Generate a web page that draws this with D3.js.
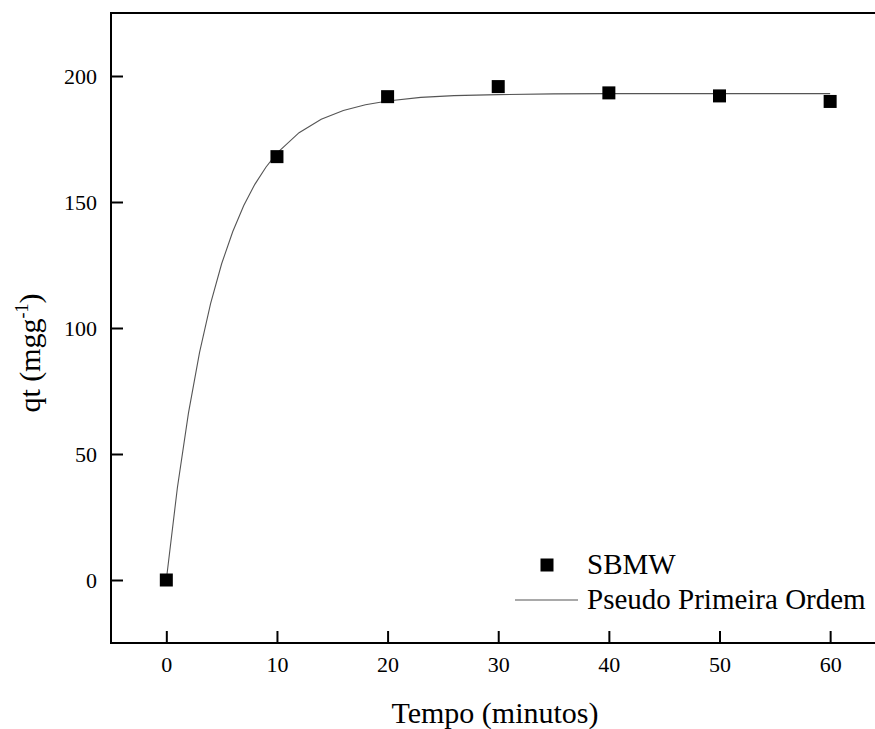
<!DOCTYPE html>
<html>
<head>
<meta charset="utf-8">
<script src="https://cdn.jsdelivr.net/npm/d3@7"></script>
<style>
  html, body { margin: 0; padding: 0; background: #fff; }
  svg { display: block; }
</style>
</head>
<body>
<svg id="chart" width="875" height="729"></svg>
<script>
// Experimental adsorption capacity over time
const tempo = [0, 10, 20, 30, 40, 50, 60];
const qt = [0, 168, 191.8, 195.8, 193.3, 192.1, 189.9];

// Pseudo-first-order fitted curve
const fitTempo = [0, 1, 2, 3, 4, 5, 6, 7, 8, 9, 10, 12, 14, 16, 18, 20, 23, 26, 30, 35, 40, 50, 60];
const fitQt = [0, 36.6, 66.2, 90.2, 109.7, 125.5, 138.2, 148.6, 157.0, 163.8, 169.4, 177.5, 182.8, 186.3, 188.6, 190.1, 191.5, 192.2, 192.6, 192.9, 193.0, 193.0, 193.0];

const xTicks = [0, 10, 20, 30, 40, 50, 60];
const yTicks = [0, 50, 100, 150, 200];

const seriesLabel = "SBMW";
const fitLabel = "Pseudo Primeira Ordem";

const FONT = "'Liberation Serif', 'Times New Roman', Times, 'DejaVu Serif', serif";

const svg = d3.select("#chart")
  .attr("font-family", FONT)
  .style("font-family", FONT);

const plotLeft = 111, plotTop = 13, plotBottom = 643, plotRight = 876;

const x = d3.scaleLinear().domain([-5, 64.1]).range([plotLeft, 875.5]);
const y = d3.scaleLinear().domain([-25, 225]).range([plotBottom, plotTop]);

// Axes with inward ticks
const xAxis = d3.axisBottom(x).tickValues(xTicks).tickSizeInner(-12).tickSizeOuter(0).tickPadding(13);
const yAxis = d3.axisLeft(y).tickValues(yTicks).tickSizeInner(-12).tickSizeOuter(0).tickPadding(14);

const gx = svg.append("g").attr("transform", `translate(0,${plotBottom})`).call(xAxis);
const gy = svg.append("g").attr("transform", `translate(${plotLeft},0)`).call(yAxis);

[gx, gy].forEach(g => {
  g.attr("font-family", FONT);
  g.select(".domain").remove();
  g.selectAll(".tick line").attr("stroke", "#000").attr("stroke-width", 2);
  g.selectAll(".tick text")
    .style("font-family", FONT)
    .style("font-size", "22px")
    .attr("fill", "#000");
});

// Frame
svg.append("rect")
  .attr("x", plotLeft).attr("y", plotTop)
  .attr("width", plotRight - plotLeft).attr("height", plotBottom - plotTop)
  .attr("fill", "none").attr("stroke", "#000").attr("stroke-width", 2);

// Fitted curve
const line = d3.line().x((d, i) => x(fitTempo[i])).y(d => y(d));
svg.append("path")
  .datum(fitQt)
  .attr("d", line)
  .attr("fill", "none")
  .attr("stroke", "#555")
  .attr("stroke-width", 1.1);

// Data markers
const size = 13;
svg.append("g").selectAll("rect")
  .data(qt)
  .join("rect")
  .attr("x", (d, i) => x(tempo[i]) - size / 2)
  .attr("y", d => y(d) - size / 2)
  .attr("width", size).attr("height", size)
  .attr("fill", "#000");

// Legend
const lg = svg.append("g");
lg.append("rect")
  .attr("x", 547 - 6.5).attr("y", 565 - 6.5)
  .attr("width", 13).attr("height", 13)
  .attr("fill", "#000");
lg.append("text")
  .attr("x", 587).attr("y", 574)
  .style("font-family", FONT)
  .style("font-size", "29px")
  .text(seriesLabel);
lg.append("line")
  .attr("x1", 515).attr("x2", 578)
  .attr("y1", 600).attr("y2", 600)
  .attr("stroke", "#555").attr("stroke-width", 1.1);
lg.append("text")
  .attr("x", 587).attr("y", 609)
  .style("font-family", FONT)
  .style("font-size", "29px")
  .text(fitLabel);

// Axis titles
svg.append("text")
  .attr("x", (plotLeft + 875) / 2 + 2).attr("y", 723)
  .attr("text-anchor", "middle")
  .style("font-family", FONT)
  .style("font-size", "30px")
  .text("Tempo (minutos)");

const yt = svg.append("text")
  .attr("transform", "translate(40,353) rotate(-90)")
  .attr("text-anchor", "middle")
  .style("font-family", FONT)
  .style("font-size", "30px");
yt.append("tspan").text("qt (mgg");
yt.append("tspan").attr("dy", -12).style("font-size", "18px").text("-1");
yt.append("tspan").attr("dy", 12).text(")");
</script>
</body>
</html>
